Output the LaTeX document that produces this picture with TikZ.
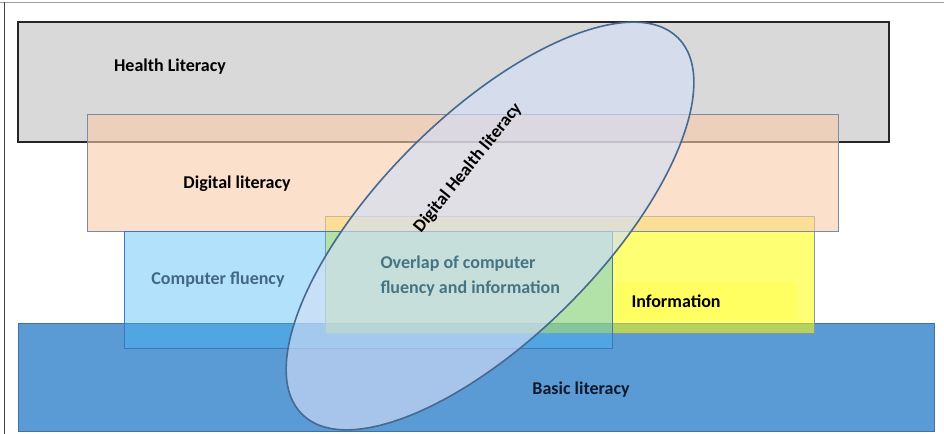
\documentclass[tikz,border=0pt]{standalone}
\usepackage{fontspec}
\setmainfont{Carlito}

\tikzset{every picture/.style={line width=0.75pt}}
\tikzset{
  hlbox/.style={draw={rgb, 255:red, 38; green, 38; blue, 38 }, fill={rgb, 255:red, 217; green, 217; blue, 217 }, line width=1.2},
  blbox/.style={draw={rgb, 255:red, 65; green, 113; blue, 156 }, fill={rgb, 255:red, 91; green, 155; blue, 213 }},
  infbox/.style={draw={rgb, 255:red, 130; green, 150; blue, 170 }, fill={rgb, 255:red, 255; green, 255; blue, 0 }, fill opacity=0.55},
  dlbox/.style={draw={rgb, 255:red, 120; green, 140; blue, 165 }, fill={rgb, 255:red, 249; green, 203; blue, 170 }, fill opacity=0.6},
  cfbox/.style={draw={rgb, 255:red, 60; green, 120; blue, 190 }, fill={rgb, 255:red, 69; green, 184; blue, 245 }, fill opacity=0.41},
  dhlell/.style={draw={rgb, 255:red, 70; green, 105; blue, 145 }, fill={rgb, 255:red, 211; green, 222; blue, 246 }, fill opacity=0.64, line width=1.2},
  lbl/.style={inner sep=0.75pt, font=\fontsize{13.5}{18.75}\selectfont\bfseries},
}

\begin{document}
\begin{tikzpicture}[x=0.75pt,y=0.75pt,yscale=-1,xscale=1]
\useasboundingbox (0,0) rectangle (944,434);

%Straight Lines [frame]
\draw [color={rgb, 255:red, 160; green, 160; blue, 160 }] (0,2.5) -- (944,2.5) ;
\draw [color={rgb, 255:red, 70; green, 70; blue, 70 }] (4.5,2.5) -- (4.5,434) ;

%Shape: Rectangle [Health Literacy]
\draw [hlbox] (18,22) rectangle (889,142) ;
\draw [color={rgb, 255:red, 38; green, 38; blue, 38 }, line width=2] (18,22) -- (889,22) ;
%Shape: Rectangle [Basic literacy]
\draw [blbox] (18,323) rectangle (934,431) ;
%Shape: Rectangle [Information]
\draw [infbox] (325,217) rectangle (814,333) ;
%Shape: Rectangle [Digital literacy]
\draw [dlbox] (87,115) rectangle (838,232) ;
%Shape: Rectangle [Computer fluency]
\draw [cfbox] (124,232) rectangle (612,348) ;
%Shape: Ellipse [Digital Health literacy]
\draw [dhlell, rotate around={-45:(490,226)}] (490,226) ellipse (266 and 111) ;

% Text Node
\node (hl) [lbl] at (170,67) {Health Literacy};
% Text Node
\node (dl) [lbl] at (237,184) {Digital literacy};
% Text Node
\node (cf) [lbl, color={rgb, 255:red, 64; green, 104; blue, 132 }] at (218,280) {Computer fluency};
% Text Node
\node (ovl) [lbl, color={rgb, 255:red, 70; green, 116; blue, 130 }, anchor=north west, align=left] at (379,254) {Overlap of computer\\fluency and information};
% Text Node
\node (inf) [lbl, anchor=west, fill={rgb, 255:red, 255; green, 255; blue, 98 }, inner xsep=13.5pt, inner ysep=0pt, minimum height=28.5pt, text width=109.5pt, align=left] at (613,301) {Information};
% Text Node
\node (bl) [lbl, color={rgb, 255:red, 15; green, 25; blue, 45 }] at (581,390) {Basic literacy};
% Text Node
\node (dhl) [lbl, rotate=51] at (468,168) {Digital Health literacy};

\end{tikzpicture}
\end{document}
